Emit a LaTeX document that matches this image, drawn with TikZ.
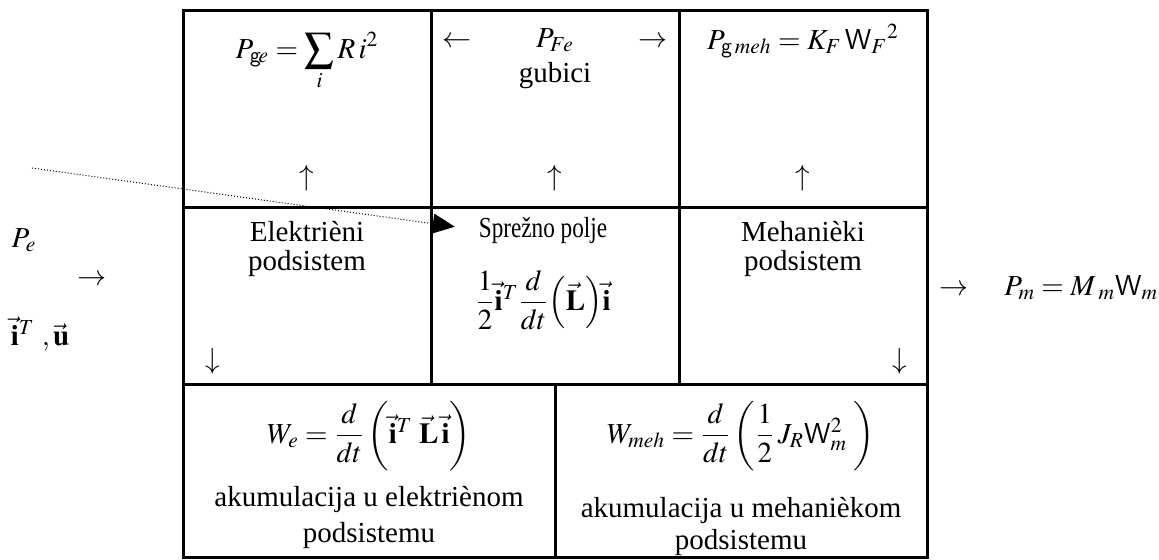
\documentclass[tikz,border=0pt]{standalone}
\usepackage{amsmath}
\usepackage{mathptmx}
\usepackage{fontspec}
\setmainfont{Liberation Serif}
\setsansfont{Liberation Sans}
\usepackage{tikz}
\usetikzlibrary{arrows.meta, positioning}
\tikzset{
  cell/.style={
    rectangle, draw, line width=1.5pt,
    inner sep=0pt, outer sep=0pt,
    minimum width=124pt,
  },
  toprow/.style={cell, minimum height=98.5pt},
  midrow/.style={cell, minimum height=88.5pt},
  botrow/.style={cell, minimum width=186pt, minimum height=86.5pt},
  celltext/.style={inner sep=0pt, font=\fontsize{14.5}{15}\selectfont},
  dotarrow/.style={-{Triangle[length=11pt, width=10pt]}, line width=0.5pt,
    dash pattern=on 0.5pt off 1pt},
}

\begin{document}
\begin{tikzpicture}[x=0.5pt, y=-0.5pt]
  \useasboundingbox (0,0) rectangle (1159,559);

  % table cells
  \node[toprow, anchor=north west] (gel) at (183,10) {};
  \node[toprow, right=0pt of gel] (gfe) {};
  \node[toprow, right=0pt of gfe] (gmeh) {};
  \node[midrow, below=0pt of gel] (el) {};
  \node[midrow, below=0pt of gfe] (spr) {};
  \node[midrow, below=0pt of gmeh] (meh) {};
  \node[botrow, below=0pt of el.south west, anchor=north west] (akel) {};
  \node[botrow, right=0pt of akel] (akmeh) {};

  % losses
  \node[celltext, below=24pt of gel.north, anchor=base] (pgel) {$P_{\mathsf{g}\!e}=\displaystyle\sum_{i} R\,i^{2}$};
  \node[celltext, below=18.5pt of gfe.north, anchor=base] (pfe) {$\leftarrow\qquad P_{Fe}\qquad\rightarrow$};
  \node[celltext, below=36pt of gfe.north, anchor=base] (gub) {gubici};
  \node[celltext, below=19.5pt of gmeh.north, anchor=base] (pgmeh) {$P_{\mathsf{g}\,meh}=K_{F}\,\mathsf{W}_{F}{}^{2}$};
  \foreach \c in {gel, gfe, gmeh}
    \node[celltext, above=14.5pt of \c.south, anchor=center] (up\c) {$\uparrow$};

  % subsystems
  \node[celltext, below=17pt of el.north, anchor=base] (el1) {Elektrièni};
  \node[celltext, below=31.5pt of el.north, anchor=base] (el2) {podsistem};
  \node[celltext, below=15pt of spr.north, anchor=base, xshift=-6pt] (sprt) {\scalebox{0.8}[1]{Sprežno polje}};
  \node[celltext, below=51.5pt of spr.north, anchor=base, xshift=-6pt] (sprf) {$\dfrac{1}{2}\vec{\mathbf{i}}^{T}\dfrac{d}{dt}\Bigl(\vec{\mathbf{L}}\Bigr)\vec{\mathbf{i}}$};
  \node[celltext, below=17pt of meh.north, anchor=base] (meh1) {Mehanièki};
  \node[celltext, below=31.5pt of meh.north, anchor=base] (meh2) {podsistem};
  \node[celltext, above right=11.5pt and 15pt of el.south west, anchor=center] (downel) {$\downarrow$};
  \node[celltext, above left=11.5pt and 13.5pt of meh.south east, anchor=center] (downmeh) {$\downarrow$};

  % accumulation
  \node[celltext, below=29.5pt of akel.north, anchor=base] (wel) {$W_{e}=\dfrac{d}{dt}\left(\vphantom{\dfrac{1}{2}}\vec{\mathbf{i}}^{T}\;\vec{\mathbf{L}}\,\vec{\mathbf{i}}\right)$};
  \node[celltext, below=61pt of akel.north, anchor=base] (akel1) {akumulacija u elektriènom};
  \node[celltext, below=79pt of akel.north, anchor=base] (akel2) {podsistemu};
  \node[celltext, below=29.5pt of akmeh.north, anchor=base] (wmeh) {$W_{meh}=\dfrac{d}{dt}\left(\dfrac{1}{2}\,J_{R}\mathsf{W}_{m}^{2}\;\right)$};
  \node[celltext, below=66.5pt of akmeh.north, anchor=base] (akmeh1) {akumulacija u mehanièkom};
  \node[celltext, below=82.5pt of akmeh.north, anchor=base] (akmeh2) {podsistemu};

  % input and output
  \node[celltext, anchor=base] (pe) at (24,247) {$P_{e}$};
  \node[celltext] (inarr) at (92,280) {$\rightarrow$};
  \node[celltext, anchor=base] (iu) at (40,345) {$\vec{\mathbf{i}}^{T}\ ,\vec{\mathbf{u}}$};
  \node[celltext, anchor=base] (pm) at (1049,295) {$\rightarrow\quad P_{m}=M_{\;m}\mathsf{W}_{m}$};

  % coupling
  \coordinate (dotstart) at (32,168);
  \draw[dotarrow, shorten >=12pt] (dotstart) -- (sprt.west);

\end{tikzpicture}
\end{document}
